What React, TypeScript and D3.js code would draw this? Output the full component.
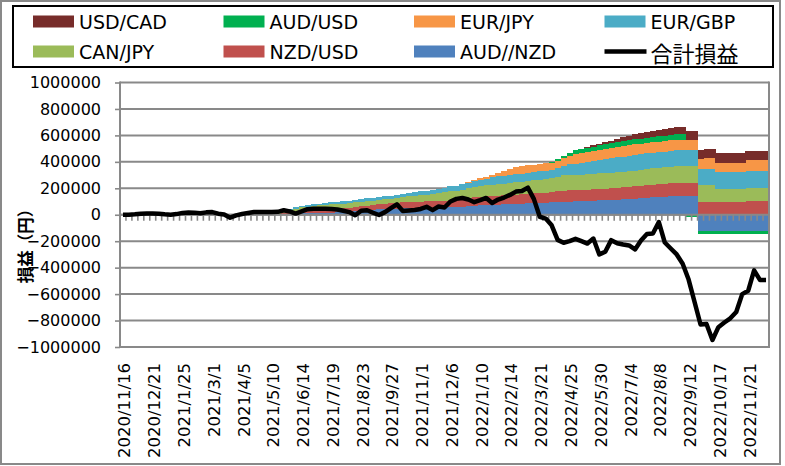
import { useEffect, useRef } from 'react';
import * as d3 from 'd3';

// weekly P/L, first week 2020/11/16
const START_DATE = new Date(2020, 10, 16);
const WEEK_COUNT = 109;

const SERIES_KEYS = ['AUD//NZD', 'NZD/USD', 'CAN/JPY', 'EUR/GBP', 'EUR/JPY', 'AUD/USD', 'USD/CAD'];
const LEGEND_ORDER = ['USD/CAD', 'AUD/USD', 'EUR/JPY', 'EUR/GBP', 'CAN/JPY', 'NZD/USD', 'AUD//NZD', '合計損益'];
const Y_TICKS = [-1000000, -800000, -600000, -400000, -200000, 0, 200000, 400000, 600000, 800000, 1000000];

const audNzd = [
  0, 0, 0, 0, 0, 0, 0, 0, 0, 0,
  0, 0, 0, 0, 0, 0, 0, -5000, -12000, -8000,
  0, 1000, 2000, 2000, 3000, 4000, 5000, 7000, 8000, 10000,
  11000, 12000, 14000, 15000, 16000, 17000, 18000, 20000, 22000, 26000,
  30000, 34000, 38000, 41000, 43000, 45000, 47000, 48000, 49000, 50000,
  52000, 53000, 54000, 55000, 56000, 58000, 59000, 62000, 65000, 68000,
  70000, 72000, 74000, 76000, 78000, 80000, 82000, 84000, 86000, 88000,
  90000, 92000, 95000, 97000, 98000, 100000, 101000, 102000, 104000, 106000,
  108000, 110000, 112000, 114000, 116000, 118000, 122000, 126000, 130000, 132000,
  134000, 136000, 138000, 140000, 140000, 140000, 140000, -120000, -120000, -120000,
  -120000, -120000, -120000, -120000, -120000, -120000, -120000, -120000, -120000,
];

const nzdUsd = [
  0, 0, 0, 0, 0, 0, 0, 0, 0, 0,
  0, 0, 0, 0, 0, 0, 0, 0, 0, 0,
  0, 0, 0, 0, 0, 2000, 4000, 8000, 12000, 16000,
  20000, 22000, 24000, 26000, 28000, 29000, 30000, 31000, 32000, 33000,
  33000, 33000, 34000, 37000, 40000, 43000, 44000, 45000, 46000, 47000,
  47000, 48000, 48000, 49000, 50000, 50000, 51000, 55000, 60000, 64000,
  66000, 67000, 67000, 68000, 68000, 69000, 70000, 71000, 72000, 73000,
  74000, 75000, 76000, 80000, 84000, 84000, 84000, 84000, 85000, 86000,
  87000, 88000, 89000, 90000, 91000, 92000, 93000, 94000, 95000, 96000,
  97000, 98000, 99000, 100000, 100000, 100000, 100000, 96000, 96000, 96000,
  96000, 96000, 96000, 96000, 96000, 104000, 104000, 104000, 104000,
];

const canJpy = [
  0, 0, 0, 0, 0, 0, 0, 0, 0, 0,
  0, 0, 0, 0, 0, 0, 0, 0, 0, 0,
  0, 0, 0, 1000, 3000, 5000, 9000, 13000, 17000, 21000,
  24000, 26000, 28000, 30000, 31000, 32000, 33000, 34000, 35000, 35000,
  35000, 35000, 34000, 33000, 33000, 33000, 36000, 40000, 44000, 48000,
  50000, 52000, 55000, 58000, 63000, 68000, 71000, 73000, 76000, 79000,
  82000, 84000, 86000, 87000, 88000, 90000, 92000, 93000, 96000, 99000,
  102000, 104000, 106000, 112000, 118000, 118000, 118000, 118000, 118000, 118000,
  118000, 118000, 118000, 118000, 118000, 118000, 119000, 120000, 121000, 122000,
  123000, 124000, 125000, 126000, 126000, 126000, 126000, 126000, 126000, 126000,
  100000, 100000, 100000, 100000, 100000, 96000, 96000, 96000, 96000,
];

const eurGbp = [
  0, 0, 0, 0, 0, 0, 0, 0, 0, 0,
  0, 0, 0, 0, 0, 0, 0, 0, 0, 0,
  0, 0, 1000, 2000, 3000, 4000, 5000, 6000, 7000, 8000,
  10000, 11000, 12000, 13000, 14000, 15000, 16000, 17000, 18000, 19000,
  20000, 21000, 22000, 22000, 22000, 22000, 24000, 26000, 27000, 28000,
  29000, 30000, 30000, 30000, 34000, 38000, 40000, 41000, 42000, 44000,
  46000, 50000, 55000, 60000, 62000, 63000, 63000, 63000, 63000, 63000,
  63000, 63000, 64000, 67000, 72000, 78000, 83000, 88000, 92000, 96000,
  100000, 104000, 108000, 112000, 115000, 116000, 117000, 117000, 118000, 118000,
  119000, 119000, 120000, 121000, 121000, 121000, 121000, 126000, 126000, 126000,
  126000, 126000, 126000, 126000, 126000, 133000, 133000, 133000, 133000,
];

const eurJpy = [
  0, 0, 0, 0, 0, 0, 0, 0, 0, 0,
  0, 0, 0, 0, 0, 0, 0, 0, 0, 0,
  0, 0, 0, 0, 0, 0, 0, 0, 0, 0,
  0, 0, 0, 0, 0, 0, 0, 0, 0, 0,
  0, 0, 0, 0, 0, 0, 0, 0, 0, 0,
  0, 0, 0, 0, 0, 0, 0, 5000, 7000, 9000,
  11000, 13000, 16000, 25000, 35000, 45000, 52000, 57000, 57000, 56000,
  55000, 54000, 53000, 54000, 58000, 65000, 72000, 75000, 76000, 77000,
  78000, 79000, 80000, 80000, 81000, 81000, 81000, 81000, 81000, 81000,
  80000, 80000, 80000, 80000, 80000, 80000, 80000, 75000, 80000, 80000,
  73000, 73000, 73000, 73000, 73000, 78000, 78000, 78000, 78000,
];

const audUsd = [
  0, 0, 0, 0, 0, 0, 0, 0, 0, 0,
  0, 0, 0, 0, 0, 0, 0, 0, 0, 0,
  0, 0, 0, 0, 0, 0, 0, 0, 0, 0,
  0, 0, 0, 0, 0, 0, 0, 0, 0, 0,
  0, 0, 0, 0, 0, 0, 0, 0, 0, 0,
  0, 0, 0, 0, 0, 0, 0, 0, 0, 0,
  0, 0, 0, 0, 0, 0, 0, 0, 0, 0,
  0, 0, 3000, 8000, 12000, 20000, 28000, 31000, 32000, 33000,
  33000, 34000, 35000, 35000, 36000, 37000, 37000, 38000, 38000, 38000,
  39000, 39000, 40000, 40000, 40000, -15000, -15000, -27000, -27000, -27000,
  -27000, -27000, -27000, -27000, -27000, -27000, -27000, -27000, -27000,
];

const usdCad = [
  0, 0, 0, 0, 0, 0, 0, 0, 0, 0,
  0, 0, 0, 0, 0, 0, 0, 0, 0, 0,
  0, 0, 0, 0, 0, 0, 0, 0, 0, 0,
  0, 0, 0, 0, 0, 0, 0, 0, 0, 0,
  0, 0, 0, 0, 0, 0, 0, 0, 0, 0,
  0, 0, 0, 0, 0, 0, 0, 0, 0, 0,
  0, 0, 0, 0, 0, 0, 0, 0, 0, 0,
  0, 0, 0, 0, 0, 0, 0, 0, 5000, 8000,
  12000, 15000, 18000, 22000, 28000, 34000, 38000, 40000, 42000, 45000,
  48000, 50000, 52000, 54000, 56000, 63000, 63000, 70000, 70000, 70000,
  70000, 70000, 70000, 70000, 70000, 70000, 70000, 70000, 70000,
];

const totalPL = [
  0, 0, 3000, 8000, 9000, 9000, 8000, 3000, 0, 5000,
  14000, 17000, 16000, 11000, 18000, 20000, 8000, 2000, -22000, -5000,
  6000, 14000, 20000, 20000, 21000, 20000, 22000, 34000, 25000, 9000,
  25000, 42000, 45000, 46000, 45000, 44000, 40000, 30000, 20000, -4000,
  30000, 34000, 15000, -2000, 20000, 50000, 79000, 29000, 32000, 36000,
  44000, 60000, 35000, 62000, 55000, 100000, 120000, 127000, 115000, 95000,
  110000, 127000, 89000, 115000, 130000, 150000, 175000, 180000, 205000, 120000,
  -15000, -29000, -80000, -190000, -212000, -200000, -182000, -200000, -218000, -180000,
  -300000, -280000, -192000, -215000, -225000, -232000, -262000, -195000, -145000, -142000,
  -55000, -210000, -255000, -300000, -370000, -490000, -660000, -830000, -826000, -947000,
  -850000, -815000, -783000, -735000, -600000, -575000, -420000, -494000, -494000,
];

const COLORS: Record<string, string> = {
  'USD/CAD': '#772C2A',
  'AUD/USD': '#00B050',
  'EUR/JPY': '#F79646',
  'EUR/GBP': '#4BACC6',
  'CAN/JPY': '#9BBB59',
  'NZD/USD': '#C0504D',
  'AUD//NZD': '#4F81BD',
  '合計損益': '#000000',
};

const SERIES_VALUES: Record<string, number[]> = {
  'AUD//NZD': audNzd,
  'NZD/USD': nzdUsd,
  'CAN/JPY': canJpy,
  'EUR/GBP': eurGbp,
  'EUR/JPY': eurJpy,
  'AUD/USD': audUsd,
  'USD/CAD': usdCad,
};

const GRID = '#898989';
const LATIN = '"DejaVu Sans", sans-serif';
const CJK = '"Noto Sans CJK JP", sans-serif';

export default function App() {
  const svgRef = useRef<SVGSVGElement>(null);

  useEffect(() => {
    if (!svgRef.current) return;
    const svg = d3.select(svgRef.current);
    svg.selectAll('*').remove();

    const plot = { left: 120, right: 769, top: 82.5, bottom: 347 };
    const weeks = d3.range(WEEK_COUNT).map(i => d3.timeDay.offset(START_DATE, 7 * i));
    const fmt = d3.timeFormat('%Y/%-m/%-d');

    const x = d3.scaleBand<number>()
      .domain(d3.range(WEEK_COUNT))
      .range([plot.left, plot.right])
      .padding(0);
    const bw = x.bandwidth();

    const y = d3.scaleLinear()
      .domain([-1000000, 1000000])
      .range([plot.bottom, plot.top]);

    // outer frame
    svg.append('rect')
      .attr('x', 1).attr('y', 1).attr('width', 779).attr('height', 463)
      .attr('fill', 'white').attr('stroke', GRID).attr('stroke-width', 2);

    // grid lines
    svg.append('g')
      .selectAll('line')
      .data(Y_TICKS)
      .join('line')
      .attr('x1', plot.left).attr('x2', plot.right)
      .attr('y1', d => y(d)).attr('y2', d => y(d))
      .attr('stroke', GRID).attr('stroke-width', 2);

    // stacked bars
    const rows = d3.range(WEEK_COUNT).map(i => {
      const r: Record<string, number> = { idx: i };
      SERIES_KEYS.forEach(k => { r[k] = SERIES_VALUES[k][i]; });
      return r;
    });
    const stacked = d3.stack<Record<string, number>>()
      .keys(SERIES_KEYS)
      .offset(d3.stackOffsetDiverging)(rows);

    svg.append('g')
      .attr('shape-rendering', 'crispEdges')
      .selectAll('g')
      .data(stacked)
      .join('g')
      .attr('fill', s => COLORS[s.key])
      .selectAll('rect')
      .data(s => s)
      .join('rect')
      .attr('x', d => x(d.data.idx) as number)
      .attr('width', bw + 0.4)
      .attr('y', d => y(Math.max(d[0], d[1])))
      .attr('height', d => Math.abs(y(d[0]) - y(d[1])));

    // plot borders
    svg.append('line')
      .attr('x1', plot.right).attr('x2', plot.right)
      .attr('y1', plot.top - 1).attr('y2', plot.bottom + 1)
      .attr('stroke', GRID).attr('stroke-width', 2);

    // category axis at zero with tick marks at every boundary
    const zeroY = y(0);
    svg.append('line')
      .attr('x1', plot.left).attr('x2', plot.right)
      .attr('y1', zeroY).attr('y2', zeroY)
      .attr('stroke', GRID).attr('stroke-width', 2);
    svg.append('g')
      .selectAll('line')
      .data(d3.range(WEEK_COUNT + 1))
      .join('line')
      .attr('x1', i => plot.left + i * bw).attr('x2', i => plot.left + i * bw)
      .attr('y1', zeroY).attr('y2', zeroY + 6)
      .attr('stroke', GRID).attr('stroke-width', 1.6);

    // value axis
    const yAxis = svg.append('g')
      .attr('transform', `translate(${plot.left},0)`)
      .call(d3.axisLeft(y).tickValues(Y_TICKS).tickSize(5).tickPadding(14).tickFormat(d3.format('d')));
    yAxis.select('.domain')
      .attr('stroke', GRID).attr('stroke-width', 2)
      .attr('d', `M0,${plot.top - 1}V${plot.bottom + 1}`);
    yAxis.selectAll('.tick line').attr('stroke', GRID).attr('stroke-width', 1.6);
    yAxis.selectAll('.tick text')
      .attr('font-family', LATIN).attr('font-size', 16).attr('fill', '#000');

    // date labels every 5 weeks
    svg.append('g')
      .selectAll('text')
      .data(d3.range(0, WEEK_COUNT, 5))
      .join('text')
      .attr('transform', i => `translate(${(x(i) as number) + bw / 2 + 1.5},363) rotate(-90)`)
      .attr('text-anchor', 'end')
      .attr('dy', '0.36em')
      .attr('font-family', LATIN)
      .attr('font-size', 16.5)
      .text(i => fmt(weeks[i]));

    // total P/L line
    const line = d3.line<number>()
      .x((_, i) => (x(i) as number) + bw / 2)
      .y(d => y(d));
    svg.append('path')
      .datum(totalPL)
      .attr('fill', 'none')
      .attr('stroke', '#000')
      .attr('stroke-width', 4.5)
      .attr('stroke-linejoin', 'round')
      .attr('d', line);

    // y axis title
    svg.append('text')
      .attr('transform', 'translate(25,242) rotate(-90)')
      .attr('text-anchor', 'middle')
      .attr('dominant-baseline', 'central')
      .attr('font-family', CJK)
      .attr('font-weight', 'bold')
      .attr('font-size', 16.5)
      .text('損益（円）');

    // legend
    svg.append('rect')
      .attr('x', 13).attr('y', 6).attr('width', 760).attr('height', 61)
      .attr('fill', 'white').attr('stroke', '#000').attr('stroke-width', 2);

    const items = svg.append('g')
      .selectAll('g')
      .data(LEGEND_ORDER)
      .join('g')
      .attr('transform', (_, k) => `translate(${33 + (k % 4) * 190.5},${k < 4 ? 21.5 : 51.5})`);
    items.each(function (name) {
      const g = d3.select(this);
      if (name === '合計損益') {
        g.append('rect').attr('x', 0).attr('y', -2.25).attr('width', 42).attr('height', 4.5).attr('fill', '#000');
      } else {
        g.append('rect').attr('x', 0).attr('y', -6).attr('width', 41).attr('height', 12).attr('fill', COLORS[name]);
      }
      g.append('text')
        .attr('x', 46)
        .attr('dominant-baseline', 'central')
        .attr('font-family', name === '合計損益' ? CJK : LATIN)
        .attr('font-size', name === '合計損益' ? 22 : 19)
        .text(name);
    });
  }, []);

  return (
    <svg
      ref={svgRef}
      width={785}
      height={466}
      style={{ position: 'absolute', left: 0, top: 0, background: 'white' }}
    />
  );
}
